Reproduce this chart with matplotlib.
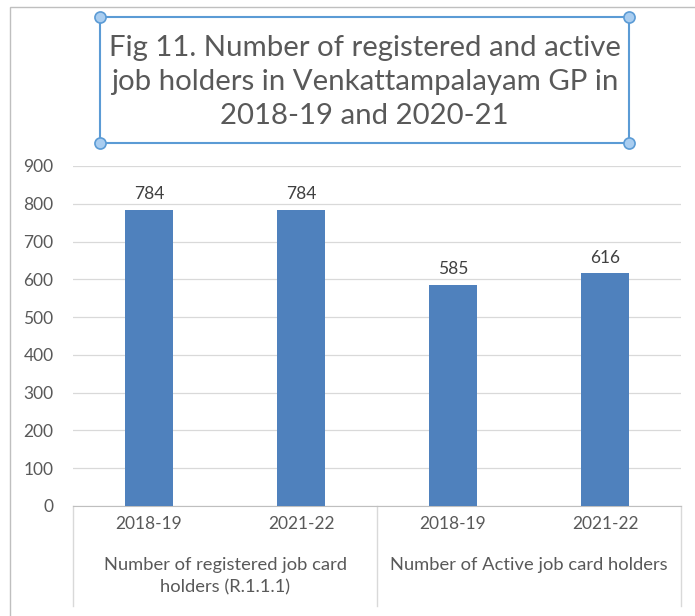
import matplotlib
matplotlib.use("Agg")
import matplotlib.pyplot as plt
from matplotlib.patches import Rectangle
from matplotlib.transforms import blended_transform_factory

years = ["2018-19", "2021-22", "2018-19", "2021-22"]
values = [784, 784, 585, 616]
groups = ["Number of registered job card\nholders (R.1.1.1)", "Number of Active job card holders"]
title = "Fig 11. Number of registered and active\njob holders in Venkattampalayam GP in\n2018-19 and 2020-21"

W, H = 695, 616
plt.rcParams['font.family'] = ['Lato', 'DejaVu Sans']
text_col = '#595959'
bar_col = '#4F81BD'

fig = plt.figure(figsize=(W / 100, H / 100), dpi=100)

def px(x, y):
    # pixel coords (top-left origin) -> figure fraction
    return x / W, 1 - y / H

# outer chart border
fig.patches.append(Rectangle(px(10, 620), (W + 5 - 10) / W, (620 - 7) / H,
                             transform=fig.transFigure, fill=False,
                             edgecolor='#BFBFBF', linewidth=1))

x0, y0 = px(73, 506)
x1, y1 = px(681, 166)
ax = fig.add_axes([x0, y0, x1 - x0, y1 - y0])

pos = list(range(len(values)))
ax.bar(pos, values, width=0.32, color=bar_col, zorder=3)
for p, v in zip(pos, values):
    ax.text(p, v + 20, str(v), ha='center', va='bottom', fontsize=12.5, color='#404040')

ax.set_xlim(-0.5, 3.5)
ax.set_ylim(0, 900)
ax.set_yticks(range(0, 901, 100))
ax.yaxis.grid(True, color='#D9D9D9', linewidth=0.9, zorder=0)
ax.set_axisbelow(True)
for s in ['top', 'right', 'left']:
    ax.spines[s].set_visible(False)
ax.spines['bottom'].set_color('#BFBFBF')
ax.tick_params(axis='y', length=0, labelsize=12.5, labelcolor=text_col, pad=14)
ax.set_xticks([])

# two-level category axis
tr = blended_transform_factory(ax.transData, fig.transFigure)
ybot = px(0, 606)[1]
for xs in [-0.5, 1.5, 3.5]:
    ax.plot([xs, xs], [y0, ybot], transform=tr, color='#D9D9D9', linewidth=1, clip_on=False)
for p, yr in zip(pos, years):
    ax.text(p, px(0, 524)[1], yr, transform=tr, ha='center', va='center', fontsize=12.5, color=text_col)
for g, gx in zip(groups, [0.5, 2.5]):
    ax.text(gx, px(0, 557)[1], g, transform=tr, ha='center', va='top', fontsize=13.2,
            color=text_col, linespacing=1.5)

# title box with selection handles
bx0, by0 = px(100, 143)
bx1, by1 = px(629, 17)
fig.patches.append(Rectangle((bx0, by0), bx1 - bx0, by1 - by0, transform=fig.transFigure,
                             fill=False, edgecolor='#5B9BD5', linewidth=1.5))
for hx, hy in [(100, 17), (629, 17), (100, 143), (629, 143)]:
    cx, cy = px(hx, hy)
    fig.add_artist(plt.Line2D([cx], [cy], marker='o', markersize=8, markerfacecolor='#A9CDF0',
                              markeredgecolor='#5B9BD5', markeredgewidth=1.2,
                              transform=fig.transFigure))
fig.text((bx0 + bx1) / 2, px(0, 82)[1], title, ha='center', va='center', fontsize=21.2,
         color=text_col, linespacing=1.4)

fig.savefig("out.png", dpi=100)
